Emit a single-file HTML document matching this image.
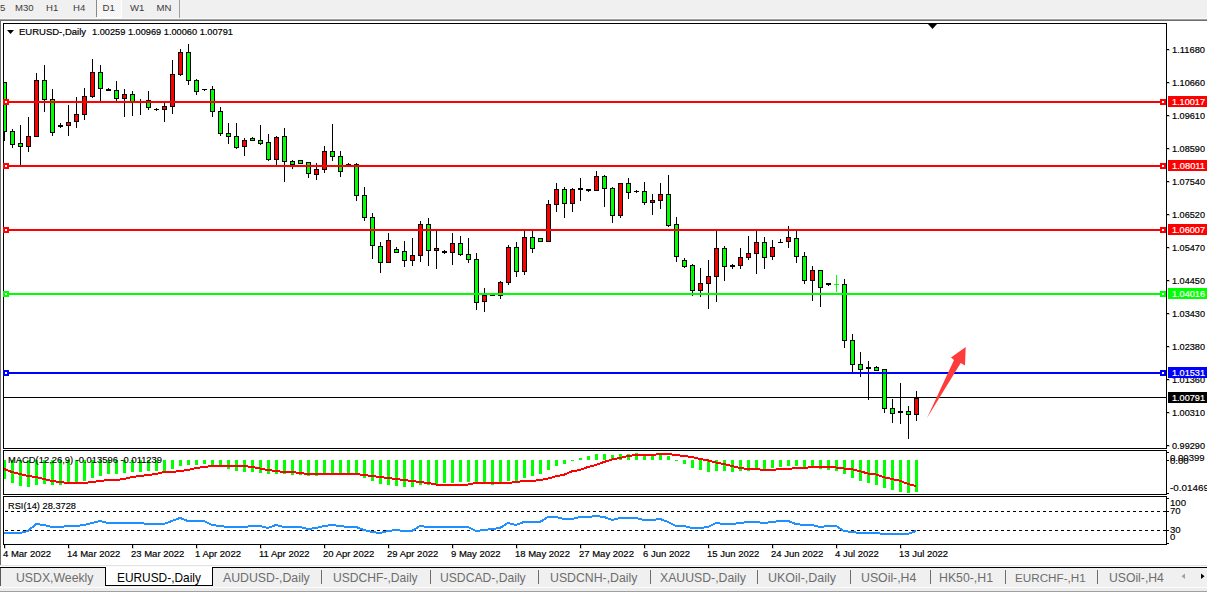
<!DOCTYPE html>
<html><head><meta charset="utf-8"><style>
html,body{margin:0;padding:0;width:1207px;height:592px;overflow:hidden;background:#f0f0f0}
svg{display:block;font-family:"Liberation Sans",sans-serif}
</style></head><body>
<svg width="1207" height="592" viewBox="0 0 1207 592" shape-rendering="crispEdges">
<rect x="0" y="0" width="1207" height="19" fill="#f0f0f0"/>
<rect x="0" y="18" width="1207" height="1" fill="#f8f8f8"/>
<rect x="0" y="19" width="1207" height="1" fill="#a0a0a0"/>
<rect x="0" y="20" width="1207" height="1" fill="#6d6d6d"/>
<defs><pattern id="chk" x="0" y="0" width="2" height="2" patternUnits="userSpaceOnUse"><rect width="2" height="2" fill="#f0f0f0"/><rect width="1" height="1" fill="#fdfdfd"/><rect x="1" y="1" width="1" height="1" fill="#fdfdfd"/></pattern></defs>
<rect x="97" y="0" width="24" height="17" fill="url(#chk)"/>
<rect x="121" y="0" width="1" height="18" fill="#ffffff"/>
<rect x="97" y="17" width="25" height="1" fill="#ffffff"/>
<rect x="96" y="0" width="1" height="17" fill="#8a8a8a"/>
<rect x="179" y="0" width="1" height="18" fill="#a0a0a0"/>
<g font-size="9.6" fill="#383838" opacity="0.98">
<text x="0" y="11">5</text><text x="15" y="11" textLength="18.5" lengthAdjust="spacingAndGlyphs">M30</text><text x="46" y="11">H1</text><text x="73" y="11">H4</text>
<text x="102.5" y="11">D1</text><text x="130" y="11">W1</text><text x="156.5" y="11">MN</text>
</g>
<rect x="1" y="21" width="1206" height="544" fill="#fff"/>
<rect x="0" y="21" width="1" height="544" fill="#6d6d6d"/>
<rect x="3.5" y="23.5" width="1163" height="425" fill="none" stroke="#000" stroke-width="1"/>
<rect x="3.5" y="450.5" width="1163" height="44" fill="none" stroke="#000" stroke-width="1"/>
<rect x="1167" y="452" width="2" height="1" fill="#000"/><rect x="1167" y="460" width="2" height="1" fill="#000"/><rect x="1167" y="493" width="2" height="1" fill="#000"/>
<rect x="1167" y="498" width="2" height="1" fill="#000"/><rect x="1167" y="511" width="2" height="1" fill="#000"/><rect x="1167" y="530" width="2" height="1" fill="#000"/><rect x="1167" y="543" width="2" height="1" fill="#000"/>
<rect x="3.5" y="496.5" width="1163" height="48" fill="none" stroke="#000" stroke-width="1"/>
<rect x="4" y="397" width="1162" height="1" fill="#000"/>
<svg x="4" y="24" width="1162" height="424" viewBox="4 24 1162 424" overflow="hidden">
<rect x="4" y="82" width="1" height="59" fill="#000"/><rect x="2" y="82" width="5" height="50" fill="#000"/><rect x="3" y="83" width="3" height="48" fill="#00ff00"/><rect x="12" y="129" width="1" height="19" fill="#000"/><rect x="10" y="131" width="5" height="14" fill="#000"/><rect x="11" y="132" width="3" height="12" fill="#00ff00"/><rect x="20" y="125" width="1" height="40" fill="#000"/><rect x="18" y="143" width="5" height="4" fill="#000"/><rect x="19" y="144" width="3" height="2" fill="#00ff00"/><rect x="28" y="117" width="1" height="35" fill="#000"/><rect x="26" y="136" width="5" height="11" fill="#000"/><rect x="27" y="137" width="3" height="9" fill="#ff0000"/><rect x="36" y="73" width="1" height="64" fill="#000"/><rect x="34" y="80" width="5" height="57" fill="#000"/><rect x="35" y="81" width="3" height="55" fill="#ff0000"/><rect x="44" y="65" width="1" height="47" fill="#000"/><rect x="42" y="80" width="5" height="20" fill="#000"/><rect x="43" y="81" width="3" height="18" fill="#00ff00"/><rect x="52" y="89" width="1" height="47" fill="#000"/><rect x="50" y="99" width="5" height="34" fill="#000"/><rect x="51" y="100" width="3" height="32" fill="#00ff00"/><rect x="60" y="123" width="1" height="5" fill="#000"/><rect x="58" y="125" width="5" height="2" fill="#000"/><rect x="68" y="105" width="1" height="31" fill="#000"/><rect x="66" y="122" width="5" height="4" fill="#000"/><rect x="67" y="123" width="3" height="2" fill="#ff0000"/><rect x="76" y="97" width="1" height="31" fill="#000"/><rect x="74" y="114" width="5" height="8" fill="#000"/><rect x="75" y="115" width="3" height="6" fill="#ff0000"/><rect x="84" y="88" width="1" height="32" fill="#000"/><rect x="82" y="96" width="5" height="19" fill="#000"/><rect x="83" y="97" width="3" height="17" fill="#ff0000"/><rect x="92" y="59" width="1" height="39" fill="#000"/><rect x="90" y="72" width="5" height="25" fill="#000"/><rect x="91" y="73" width="3" height="23" fill="#ff0000"/><rect x="100" y="65" width="1" height="36" fill="#000"/><rect x="98" y="72" width="5" height="17" fill="#000"/><rect x="99" y="73" width="3" height="15" fill="#00ff00"/><rect x="108" y="88" width="1" height="3" fill="#000"/><rect x="106" y="89" width="5" height="2" fill="#000"/><rect x="116" y="81" width="1" height="20" fill="#000"/><rect x="114" y="90" width="5" height="9" fill="#000"/><rect x="115" y="91" width="3" height="7" fill="#00ff00"/><rect x="124" y="89" width="1" height="28" fill="#000"/><rect x="122" y="94" width="5" height="5" fill="#000"/><rect x="123" y="95" width="3" height="3" fill="#ff0000"/><rect x="132" y="91" width="1" height="25" fill="#000"/><rect x="130" y="94" width="5" height="8" fill="#000"/><rect x="131" y="95" width="3" height="6" fill="#00ff00"/><rect x="140" y="99" width="1" height="16" fill="#000"/><rect x="138" y="101" width="5" height="1" fill="#000"/><rect x="148" y="91" width="1" height="19" fill="#000"/><rect x="146" y="100" width="5" height="8" fill="#000"/><rect x="147" y="101" width="3" height="6" fill="#00ff00"/><rect x="156" y="108" width="1" height="3" fill="#000"/><rect x="154" y="109" width="5" height="1" fill="#000"/><rect x="164" y="103" width="1" height="19" fill="#000"/><rect x="162" y="106" width="5" height="4" fill="#000"/><rect x="163" y="107" width="3" height="2" fill="#ff0000"/><rect x="172" y="60" width="1" height="54" fill="#000"/><rect x="170" y="74" width="5" height="33" fill="#000"/><rect x="171" y="75" width="3" height="31" fill="#ff0000"/><rect x="180" y="49" width="1" height="27" fill="#000"/><rect x="178" y="52" width="5" height="23" fill="#000"/><rect x="179" y="53" width="3" height="21" fill="#ff0000"/><rect x="188" y="44" width="1" height="41" fill="#000"/><rect x="186" y="52" width="5" height="29" fill="#000"/><rect x="187" y="53" width="3" height="27" fill="#00ff00"/><rect x="196" y="79" width="1" height="16" fill="#000"/><rect x="194" y="80" width="5" height="12" fill="#000"/><rect x="195" y="81" width="3" height="10" fill="#00ff00"/><rect x="204" y="89" width="1" height="2" fill="#000"/><rect x="202" y="89" width="5" height="1" fill="#000"/><rect x="212" y="86" width="1" height="31" fill="#000"/><rect x="210" y="89" width="5" height="23" fill="#000"/><rect x="211" y="90" width="3" height="21" fill="#00ff00"/><rect x="220" y="107" width="1" height="29" fill="#000"/><rect x="218" y="111" width="5" height="23" fill="#000"/><rect x="219" y="112" width="3" height="21" fill="#00ff00"/><rect x="228" y="123" width="1" height="21" fill="#000"/><rect x="226" y="133" width="5" height="4" fill="#000"/><rect x="227" y="134" width="3" height="2" fill="#00ff00"/><rect x="236" y="123" width="1" height="26" fill="#000"/><rect x="234" y="136" width="5" height="12" fill="#000"/><rect x="235" y="137" width="3" height="10" fill="#00ff00"/><rect x="244" y="138" width="1" height="18" fill="#000"/><rect x="242" y="140" width="5" height="7" fill="#000"/><rect x="243" y="141" width="3" height="5" fill="#ff0000"/><rect x="252" y="137" width="1" height="4" fill="#000"/><rect x="250" y="138" width="5" height="3" fill="#000"/><rect x="251" y="139" width="3" height="1" fill="#00ff00"/><rect x="260" y="125" width="1" height="20" fill="#000"/><rect x="258" y="140" width="5" height="4" fill="#000"/><rect x="259" y="141" width="3" height="2" fill="#00ff00"/><rect x="268" y="134" width="1" height="27" fill="#000"/><rect x="266" y="142" width="5" height="18" fill="#000"/><rect x="267" y="143" width="3" height="16" fill="#00ff00"/><rect x="276" y="136" width="1" height="29" fill="#000"/><rect x="274" y="137" width="5" height="23" fill="#000"/><rect x="275" y="138" width="3" height="21" fill="#ff0000"/><rect x="284" y="128" width="1" height="54" fill="#000"/><rect x="282" y="136" width="5" height="26" fill="#000"/><rect x="283" y="137" width="3" height="24" fill="#00ff00"/><rect x="292" y="160" width="1" height="9" fill="#000"/><rect x="290" y="161" width="5" height="4" fill="#000"/><rect x="291" y="162" width="3" height="2" fill="#00ff00"/><rect x="300" y="160" width="1" height="3" fill="#000"/><rect x="298" y="160" width="5" height="4" fill="#000"/><rect x="299" y="161" width="3" height="2" fill="#00ff00"/><rect x="308" y="162" width="1" height="16" fill="#000"/><rect x="306" y="162" width="5" height="12" fill="#000"/><rect x="307" y="163" width="3" height="10" fill="#00ff00"/><rect x="316" y="163" width="1" height="17" fill="#000"/><rect x="314" y="169" width="5" height="6" fill="#000"/><rect x="315" y="170" width="3" height="4" fill="#ff0000"/><rect x="324" y="146" width="1" height="27" fill="#000"/><rect x="322" y="151" width="5" height="19" fill="#000"/><rect x="323" y="152" width="3" height="17" fill="#ff0000"/><rect x="332" y="124" width="1" height="37" fill="#000"/><rect x="330" y="151" width="5" height="6" fill="#000"/><rect x="331" y="152" width="3" height="4" fill="#00ff00"/><rect x="340" y="151" width="1" height="26" fill="#000"/><rect x="338" y="156" width="5" height="16" fill="#000"/><rect x="339" y="157" width="3" height="14" fill="#00ff00"/><rect x="348" y="163" width="1" height="3" fill="#000"/><rect x="346" y="164" width="5" height="2" fill="#000"/><rect x="356" y="163" width="1" height="38" fill="#000"/><rect x="354" y="164" width="5" height="32" fill="#000"/><rect x="355" y="165" width="3" height="30" fill="#00ff00"/><rect x="364" y="187" width="1" height="34" fill="#000"/><rect x="362" y="195" width="5" height="23" fill="#000"/><rect x="363" y="196" width="3" height="21" fill="#00ff00"/><rect x="372" y="213" width="1" height="46" fill="#000"/><rect x="370" y="217" width="5" height="29" fill="#000"/><rect x="371" y="218" width="3" height="27" fill="#00ff00"/><rect x="380" y="242" width="1" height="31" fill="#000"/><rect x="378" y="246" width="5" height="17" fill="#000"/><rect x="379" y="247" width="3" height="15" fill="#00ff00"/><rect x="388" y="233" width="1" height="30" fill="#000"/><rect x="386" y="240" width="5" height="23" fill="#000"/><rect x="387" y="241" width="3" height="21" fill="#ff0000"/><rect x="396" y="247" width="1" height="6" fill="#000"/><rect x="394" y="249" width="5" height="4" fill="#000"/><rect x="395" y="250" width="3" height="2" fill="#00ff00"/><rect x="404" y="241" width="1" height="26" fill="#000"/><rect x="402" y="251" width="5" height="10" fill="#000"/><rect x="403" y="252" width="3" height="8" fill="#00ff00"/><rect x="412" y="238" width="1" height="28" fill="#000"/><rect x="410" y="255" width="5" height="6" fill="#000"/><rect x="411" y="256" width="3" height="4" fill="#ff0000"/><rect x="420" y="221" width="1" height="41" fill="#000"/><rect x="418" y="224" width="5" height="32" fill="#000"/><rect x="419" y="225" width="3" height="30" fill="#ff0000"/><rect x="428" y="218" width="1" height="48" fill="#000"/><rect x="426" y="224" width="5" height="27" fill="#000"/><rect x="427" y="225" width="3" height="25" fill="#00ff00"/><rect x="436" y="231" width="1" height="38" fill="#000"/><rect x="434" y="248" width="5" height="3" fill="#000"/><rect x="435" y="249" width="3" height="1" fill="#ff0000"/><rect x="444" y="250" width="1" height="4" fill="#000"/><rect x="442" y="251" width="5" height="2" fill="#000"/><rect x="452" y="233" width="1" height="32" fill="#000"/><rect x="450" y="243" width="5" height="10" fill="#000"/><rect x="451" y="244" width="3" height="8" fill="#ff0000"/><rect x="460" y="236" width="1" height="20" fill="#000"/><rect x="458" y="243" width="5" height="12" fill="#000"/><rect x="459" y="244" width="3" height="10" fill="#00ff00"/><rect x="468" y="238" width="1" height="25" fill="#000"/><rect x="466" y="254" width="5" height="6" fill="#000"/><rect x="467" y="255" width="3" height="4" fill="#00ff00"/><rect x="476" y="253" width="1" height="57" fill="#000"/><rect x="474" y="259" width="5" height="44" fill="#000"/><rect x="475" y="260" width="3" height="42" fill="#00ff00"/><rect x="484" y="288" width="1" height="24" fill="#000"/><rect x="482" y="295" width="5" height="7" fill="#000"/><rect x="483" y="296" width="3" height="5" fill="#ff0000"/><rect x="492" y="295" width="1" height="1" fill="#000"/><rect x="490" y="295" width="5" height="1" fill="#000"/><rect x="500" y="281" width="1" height="18" fill="#000"/><rect x="498" y="282" width="5" height="14" fill="#000"/><rect x="499" y="283" width="3" height="12" fill="#ff0000"/><rect x="508" y="245" width="1" height="40" fill="#000"/><rect x="506" y="247" width="5" height="36" fill="#000"/><rect x="507" y="248" width="3" height="34" fill="#ff0000"/><rect x="516" y="242" width="1" height="35" fill="#000"/><rect x="514" y="247" width="5" height="25" fill="#000"/><rect x="515" y="248" width="3" height="23" fill="#00ff00"/><rect x="524" y="231" width="1" height="44" fill="#000"/><rect x="522" y="237" width="5" height="35" fill="#000"/><rect x="523" y="238" width="3" height="33" fill="#ff0000"/><rect x="532" y="231" width="1" height="22" fill="#000"/><rect x="530" y="237" width="5" height="12" fill="#000"/><rect x="531" y="238" width="3" height="10" fill="#00ff00"/><rect x="540" y="238" width="1" height="4" fill="#000"/><rect x="538" y="238" width="5" height="4" fill="#000"/><rect x="539" y="239" width="3" height="2" fill="#00ff00"/><rect x="548" y="200" width="1" height="42" fill="#000"/><rect x="546" y="204" width="5" height="38" fill="#000"/><rect x="547" y="205" width="3" height="36" fill="#ff0000"/><rect x="556" y="183" width="1" height="29" fill="#000"/><rect x="554" y="189" width="5" height="16" fill="#000"/><rect x="555" y="190" width="3" height="14" fill="#ff0000"/><rect x="564" y="187" width="1" height="31" fill="#000"/><rect x="562" y="189" width="5" height="15" fill="#000"/><rect x="563" y="190" width="3" height="13" fill="#00ff00"/><rect x="572" y="188" width="1" height="24" fill="#000"/><rect x="570" y="189" width="5" height="15" fill="#000"/><rect x="571" y="190" width="3" height="13" fill="#ff0000"/><rect x="580" y="178" width="1" height="23" fill="#000"/><rect x="578" y="188" width="5" height="2" fill="#000"/><rect x="588" y="189" width="1" height="3" fill="#000"/><rect x="586" y="189" width="5" height="2" fill="#000"/><rect x="596" y="171" width="1" height="20" fill="#000"/><rect x="594" y="176" width="5" height="15" fill="#000"/><rect x="595" y="177" width="3" height="13" fill="#ff0000"/><rect x="604" y="175" width="1" height="32" fill="#000"/><rect x="602" y="176" width="5" height="13" fill="#000"/><rect x="603" y="177" width="3" height="11" fill="#00ff00"/><rect x="612" y="187" width="1" height="36" fill="#000"/><rect x="610" y="188" width="5" height="28" fill="#000"/><rect x="611" y="189" width="3" height="26" fill="#00ff00"/><rect x="620" y="183" width="1" height="35" fill="#000"/><rect x="618" y="183" width="5" height="33" fill="#000"/><rect x="619" y="184" width="3" height="31" fill="#ff0000"/><rect x="628" y="178" width="1" height="21" fill="#000"/><rect x="626" y="183" width="5" height="10" fill="#000"/><rect x="627" y="184" width="3" height="8" fill="#00ff00"/><rect x="636" y="190" width="1" height="3" fill="#000"/><rect x="634" y="191" width="5" height="1" fill="#000"/><rect x="644" y="182" width="1" height="23" fill="#000"/><rect x="642" y="191" width="5" height="12" fill="#000"/><rect x="643" y="192" width="3" height="10" fill="#00ff00"/><rect x="652" y="194" width="1" height="21" fill="#000"/><rect x="650" y="200" width="5" height="3" fill="#000"/><rect x="651" y="201" width="3" height="1" fill="#ff0000"/><rect x="660" y="183" width="1" height="26" fill="#000"/><rect x="658" y="194" width="5" height="7" fill="#000"/><rect x="659" y="195" width="3" height="5" fill="#ff0000"/><rect x="668" y="175" width="1" height="52" fill="#000"/><rect x="666" y="194" width="5" height="32" fill="#000"/><rect x="667" y="195" width="3" height="30" fill="#00ff00"/><rect x="676" y="217" width="1" height="45" fill="#000"/><rect x="674" y="224" width="5" height="33" fill="#000"/><rect x="675" y="225" width="3" height="31" fill="#00ff00"/><rect x="684" y="258" width="1" height="10" fill="#000"/><rect x="682" y="260" width="5" height="7" fill="#000"/><rect x="683" y="261" width="3" height="5" fill="#00ff00"/><rect x="692" y="264" width="1" height="32" fill="#000"/><rect x="690" y="265" width="5" height="26" fill="#000"/><rect x="691" y="266" width="3" height="24" fill="#00ff00"/><rect x="700" y="268" width="1" height="29" fill="#000"/><rect x="698" y="283" width="5" height="8" fill="#000"/><rect x="699" y="284" width="3" height="6" fill="#ff0000"/><rect x="708" y="260" width="1" height="49" fill="#000"/><rect x="706" y="276" width="5" height="8" fill="#000"/><rect x="707" y="277" width="3" height="6" fill="#ff0000"/><rect x="716" y="231" width="1" height="71" fill="#000"/><rect x="714" y="248" width="5" height="29" fill="#000"/><rect x="715" y="249" width="3" height="27" fill="#ff0000"/><rect x="724" y="246" width="1" height="35" fill="#000"/><rect x="722" y="248" width="5" height="19" fill="#000"/><rect x="723" y="249" width="3" height="17" fill="#00ff00"/><rect x="732" y="264" width="1" height="5" fill="#000"/><rect x="730" y="265" width="5" height="2" fill="#000"/><rect x="740" y="248" width="1" height="21" fill="#000"/><rect x="738" y="257" width="5" height="9" fill="#000"/><rect x="739" y="258" width="3" height="7" fill="#ff0000"/><rect x="748" y="236" width="1" height="24" fill="#000"/><rect x="746" y="253" width="5" height="5" fill="#000"/><rect x="747" y="254" width="3" height="3" fill="#ff0000"/><rect x="756" y="231" width="1" height="43" fill="#000"/><rect x="754" y="242" width="5" height="12" fill="#000"/><rect x="755" y="243" width="3" height="10" fill="#ff0000"/><rect x="764" y="237" width="1" height="32" fill="#000"/><rect x="762" y="242" width="5" height="16" fill="#000"/><rect x="763" y="243" width="3" height="14" fill="#00ff00"/><rect x="772" y="240" width="1" height="20" fill="#000"/><rect x="770" y="247" width="5" height="10" fill="#000"/><rect x="771" y="248" width="3" height="8" fill="#ff0000"/><rect x="780" y="239" width="1" height="4" fill="#000"/><rect x="778" y="242" width="5" height="1" fill="#000"/><rect x="788" y="226" width="1" height="22" fill="#000"/><rect x="786" y="237" width="5" height="5" fill="#000"/><rect x="787" y="238" width="3" height="3" fill="#ff0000"/><rect x="796" y="231" width="1" height="32" fill="#000"/><rect x="794" y="238" width="5" height="19" fill="#000"/><rect x="795" y="239" width="3" height="17" fill="#00ff00"/><rect x="804" y="252" width="1" height="32" fill="#000"/><rect x="802" y="256" width="5" height="25" fill="#000"/><rect x="803" y="257" width="3" height="23" fill="#00ff00"/><rect x="812" y="266" width="1" height="35" fill="#000"/><rect x="810" y="270" width="5" height="11" fill="#000"/><rect x="811" y="271" width="3" height="9" fill="#ff0000"/><rect x="820" y="270" width="1" height="37" fill="#000"/><rect x="818" y="270" width="5" height="18" fill="#000"/><rect x="819" y="271" width="3" height="16" fill="#00ff00"/><rect x="828" y="283" width="1" height="3" fill="#000"/><rect x="826" y="283" width="5" height="2" fill="#000"/><rect x="836" y="275" width="1" height="17" fill="#00ff00"/><rect x="834" y="284" width="5" height="1" fill="#00ff00"/><rect x="844" y="279" width="1" height="69" fill="#000"/><rect x="842" y="284" width="5" height="57" fill="#000"/><rect x="843" y="285" width="3" height="55" fill="#00ff00"/><rect x="852" y="334" width="1" height="39" fill="#000"/><rect x="850" y="340" width="5" height="25" fill="#000"/><rect x="851" y="341" width="3" height="23" fill="#00ff00"/><rect x="860" y="352" width="1" height="25" fill="#000"/><rect x="858" y="364" width="5" height="6" fill="#000"/><rect x="859" y="365" width="3" height="4" fill="#00ff00"/><rect x="868" y="361" width="1" height="39" fill="#000"/><rect x="866" y="367" width="5" height="2" fill="#000"/><rect x="876" y="366" width="1" height="5" fill="#000"/><rect x="874" y="367" width="5" height="4" fill="#000"/><rect x="875" y="368" width="3" height="2" fill="#00ff00"/><rect x="884" y="369" width="1" height="44" fill="#000"/><rect x="882" y="369" width="5" height="40" fill="#000"/><rect x="883" y="370" width="3" height="38" fill="#00ff00"/><rect x="892" y="399" width="1" height="24" fill="#000"/><rect x="890" y="408" width="5" height="6" fill="#000"/><rect x="891" y="409" width="3" height="4" fill="#00ff00"/><rect x="900" y="383" width="1" height="41" fill="#000"/><rect x="898" y="411" width="5" height="2" fill="#000"/><rect x="908" y="406" width="1" height="33" fill="#000"/><rect x="906" y="411" width="5" height="4" fill="#000"/><rect x="907" y="412" width="3" height="2" fill="#00ff00"/><rect x="916" y="391" width="1" height="30" fill="#000"/><rect x="914" y="398" width="5" height="17" fill="#000"/><rect x="915" y="399" width="3" height="15" fill="#ff0000"/>
</svg>
<g font-size="9.8" fill="#000" stroke="#000" stroke-width="0.2">
<rect x="1167" y="49" width="2" height="1" fill="#000"/><text x="1172" y="53" textLength="33" lengthAdjust="spacingAndGlyphs">1.11680</text><rect x="1167" y="82" width="2" height="1" fill="#000"/><text x="1172" y="86" textLength="33" lengthAdjust="spacingAndGlyphs">1.10660</text><rect x="1167" y="115" width="2" height="1" fill="#000"/><text x="1172" y="119" textLength="33" lengthAdjust="spacingAndGlyphs">1.09610</text><rect x="1167" y="148" width="2" height="1" fill="#000"/><text x="1172" y="152" textLength="33" lengthAdjust="spacingAndGlyphs">1.08590</text><rect x="1167" y="181" width="2" height="1" fill="#000"/><text x="1172" y="185" textLength="33" lengthAdjust="spacingAndGlyphs">1.07540</text><rect x="1167" y="214" width="2" height="1" fill="#000"/><text x="1172" y="218" textLength="33" lengthAdjust="spacingAndGlyphs">1.06520</text><rect x="1167" y="247" width="2" height="1" fill="#000"/><text x="1172" y="251" textLength="33" lengthAdjust="spacingAndGlyphs">1.05470</text><rect x="1167" y="280" width="2" height="1" fill="#000"/><text x="1172" y="284" textLength="33" lengthAdjust="spacingAndGlyphs">1.04450</text><rect x="1167" y="313" width="2" height="1" fill="#000"/><text x="1172" y="317" textLength="33" lengthAdjust="spacingAndGlyphs">1.03430</text><rect x="1167" y="346" width="2" height="1" fill="#000"/><text x="1172" y="350" textLength="33" lengthAdjust="spacingAndGlyphs">1.02380</text><rect x="1167" y="379" width="2" height="1" fill="#000"/><text x="1172" y="383" textLength="33" lengthAdjust="spacingAndGlyphs">1.01360</text><rect x="1167" y="412" width="2" height="1" fill="#000"/><text x="1172" y="416" textLength="33" lengthAdjust="spacingAndGlyphs">1.00310</text><rect x="1167" y="445" width="2" height="1" fill="#000"/><text x="1172" y="449" textLength="33" lengthAdjust="spacingAndGlyphs">0.99290</text>
</g>
<g font-size="9.8"><rect x="4" y="101" width="1162" height="2" fill="#ff0000"/><rect x="1160" y="99" width="6" height="6" fill="#ff0000"/><rect x="1162" y="101" width="2" height="2" fill="#fff"/><rect x="3" y="99" width="6" height="6" fill="#ff0000"/><rect x="5" y="101" width="2" height="2" fill="#fff"/><rect x="4" y="165" width="1162" height="2" fill="#ff0000"/><rect x="1160" y="163" width="6" height="6" fill="#ff0000"/><rect x="1162" y="165" width="2" height="2" fill="#fff"/><rect x="3" y="163" width="6" height="6" fill="#ff0000"/><rect x="5" y="165" width="2" height="2" fill="#fff"/><rect x="4" y="229" width="1162" height="2" fill="#ff0000"/><rect x="1160" y="227" width="6" height="6" fill="#ff0000"/><rect x="1162" y="229" width="2" height="2" fill="#fff"/><rect x="3" y="227" width="6" height="6" fill="#ff0000"/><rect x="5" y="229" width="2" height="2" fill="#fff"/><rect x="4" y="293" width="1162" height="2" fill="#00ff00"/><rect x="1160" y="291" width="6" height="6" fill="#00ff00"/><rect x="1162" y="293" width="2" height="2" fill="#fff"/><rect x="3" y="291" width="6" height="6" fill="#00ff00"/><rect x="5" y="293" width="2" height="2" fill="#fff"/><rect x="4" y="372" width="1162" height="2" fill="#0000ff"/><rect x="1160" y="370" width="6" height="6" fill="#0000ff"/><rect x="1162" y="372" width="2" height="2" fill="#fff"/><rect x="3" y="370" width="6" height="6" fill="#0000ff"/><rect x="5" y="372" width="2" height="2" fill="#fff"/><rect x="1168" y="96" width="39" height="11" fill="#ff0000"/><text x="1172" y="105" fill="#fff" stroke="#fff" stroke-width="0.2" textLength="33" lengthAdjust="spacingAndGlyphs">1.10017</text><rect x="1168" y="160" width="39" height="11" fill="#ff0000"/><text x="1172" y="169" fill="#fff" stroke="#fff" stroke-width="0.2" textLength="33" lengthAdjust="spacingAndGlyphs">1.08011</text><rect x="1168" y="224" width="39" height="11" fill="#ff0000"/><text x="1172" y="233" fill="#fff" stroke="#fff" stroke-width="0.2" textLength="33" lengthAdjust="spacingAndGlyphs">1.06007</text><rect x="1168" y="288" width="39" height="11" fill="#00ff00"/><text x="1172" y="297" fill="#fff" stroke="#fff" stroke-width="0.2" textLength="33" lengthAdjust="spacingAndGlyphs">1.04016</text><rect x="1168" y="367" width="39" height="11" fill="#0000ff"/><text x="1172" y="376" fill="#fff" stroke="#fff" stroke-width="0.2" textLength="33" lengthAdjust="spacingAndGlyphs">1.01531</text><rect x="1168" y="392" width="39" height="11" fill="#000"/><text x="1172" y="401" fill="#fff" stroke="#fff" stroke-width="0.2" textLength="33" lengthAdjust="spacingAndGlyphs">1.00791</text></g>
<polygon points="928,24 937,24 932.5,29" fill="#000" shape-rendering="geometricPrecision"/>
<polygon points="7,30 14,30 10.5,34" fill="#000" shape-rendering="geometricPrecision"/>
<g font-size="9.9" fill="#000" stroke="#000" stroke-width="0.2">
<text x="19" y="35" textLength="67" lengthAdjust="spacingAndGlyphs">EURUSD-,Daily</text><text x="92" y="35" textLength="141" lengthAdjust="spacingAndGlyphs">1.00259 1.00969 1.00060 1.00791</text>
</g>
<polygon points="927,418 954,360 951,357.5 965.7,347 965,365.5 960.7,363" fill="#ff3c3c" shape-rendering="geometricPrecision"/>
<svg x="4" y="451" width="1162" height="43" viewBox="4 451 1162 43" overflow="hidden">
<rect x="3" y="460" width="3" height="19" fill="#00ff00"/><rect x="11" y="460" width="3" height="23" fill="#00ff00"/><rect x="19" y="460" width="3" height="26" fill="#00ff00"/><rect x="27" y="460" width="3" height="27" fill="#00ff00"/><rect x="35" y="460" width="3" height="25" fill="#00ff00"/><rect x="43" y="460" width="3" height="24" fill="#00ff00"/><rect x="51" y="460" width="3" height="25" fill="#00ff00"/><rect x="59" y="460" width="3" height="25" fill="#00ff00"/><rect x="67" y="460" width="3" height="22" fill="#00ff00"/><rect x="75" y="460" width="3" height="22" fill="#00ff00"/><rect x="83" y="460" width="3" height="21" fill="#00ff00"/><rect x="91" y="460" width="3" height="18" fill="#00ff00"/><rect x="99" y="460" width="3" height="16" fill="#00ff00"/><rect x="107" y="460" width="3" height="14" fill="#00ff00"/><rect x="115" y="460" width="3" height="14" fill="#00ff00"/><rect x="123" y="460" width="3" height="13" fill="#00ff00"/><rect x="131" y="460" width="3" height="12" fill="#00ff00"/><rect x="139" y="460" width="3" height="12" fill="#00ff00"/><rect x="147" y="460" width="3" height="11" fill="#00ff00"/><rect x="155" y="460" width="3" height="11" fill="#00ff00"/><rect x="163" y="460" width="3" height="11" fill="#00ff00"/><rect x="171" y="460" width="3" height="9" fill="#00ff00"/><rect x="179" y="460" width="3" height="6" fill="#00ff00"/><rect x="187" y="460" width="3" height="5" fill="#00ff00"/><rect x="195" y="460" width="3" height="5" fill="#00ff00"/><rect x="203" y="460" width="3" height="4" fill="#00ff00"/><rect x="211" y="460" width="3" height="5" fill="#00ff00"/><rect x="219" y="460" width="3" height="5" fill="#00ff00"/><rect x="227" y="460" width="3" height="9" fill="#00ff00"/><rect x="235" y="460" width="3" height="11" fill="#00ff00"/><rect x="243" y="460" width="3" height="12" fill="#00ff00"/><rect x="251" y="460" width="3" height="12" fill="#00ff00"/><rect x="259" y="460" width="3" height="13" fill="#00ff00"/><rect x="267" y="460" width="3" height="14" fill="#00ff00"/><rect x="275" y="460" width="3" height="14" fill="#00ff00"/><rect x="283" y="460" width="3" height="14" fill="#00ff00"/><rect x="291" y="460" width="3" height="15" fill="#00ff00"/><rect x="299" y="460" width="3" height="15" fill="#00ff00"/><rect x="307" y="460" width="3" height="16" fill="#00ff00"/><rect x="315" y="460" width="3" height="16" fill="#00ff00"/><rect x="323" y="460" width="3" height="14" fill="#00ff00"/><rect x="331" y="460" width="3" height="14" fill="#00ff00"/><rect x="339" y="460" width="3" height="14" fill="#00ff00"/><rect x="347" y="460" width="3" height="14" fill="#00ff00"/><rect x="355" y="460" width="3" height="14" fill="#00ff00"/><rect x="363" y="460" width="3" height="18" fill="#00ff00"/><rect x="371" y="460" width="3" height="21" fill="#00ff00"/><rect x="379" y="460" width="3" height="24" fill="#00ff00"/><rect x="387" y="460" width="3" height="25" fill="#00ff00"/><rect x="395" y="460" width="3" height="26" fill="#00ff00"/><rect x="403" y="460" width="3" height="27" fill="#00ff00"/><rect x="411" y="460" width="3" height="27" fill="#00ff00"/><rect x="419" y="460" width="3" height="25" fill="#00ff00"/><rect x="427" y="460" width="3" height="25" fill="#00ff00"/><rect x="435" y="460" width="3" height="24" fill="#00ff00"/><rect x="443" y="460" width="3" height="23" fill="#00ff00"/><rect x="451" y="460" width="3" height="23" fill="#00ff00"/><rect x="459" y="460" width="3" height="22" fill="#00ff00"/><rect x="467" y="460" width="3" height="22" fill="#00ff00"/><rect x="475" y="460" width="3" height="23" fill="#00ff00"/><rect x="483" y="460" width="3" height="24" fill="#00ff00"/><rect x="491" y="460" width="3" height="25" fill="#00ff00"/><rect x="499" y="460" width="3" height="23" fill="#00ff00"/><rect x="507" y="460" width="3" height="21" fill="#00ff00"/><rect x="515" y="460" width="3" height="21" fill="#00ff00"/><rect x="523" y="460" width="3" height="18" fill="#00ff00"/><rect x="531" y="460" width="3" height="16" fill="#00ff00"/><rect x="539" y="460" width="3" height="14" fill="#00ff00"/><rect x="547" y="460" width="3" height="10" fill="#00ff00"/><rect x="555" y="460" width="3" height="6" fill="#00ff00"/><rect x="563" y="460" width="3" height="4" fill="#00ff00"/><rect x="571" y="460" width="3" height="1" fill="#00ff00"/><rect x="579" y="458" width="3" height="2" fill="#00ff00"/><rect x="587" y="456" width="3" height="4" fill="#00ff00"/><rect x="595" y="454" width="3" height="6" fill="#00ff00"/><rect x="603" y="454" width="3" height="6" fill="#00ff00"/><rect x="611" y="455" width="3" height="5" fill="#00ff00"/><rect x="619" y="454" width="3" height="6" fill="#00ff00"/><rect x="627" y="454" width="3" height="6" fill="#00ff00"/><rect x="635" y="453" width="3" height="7" fill="#00ff00"/><rect x="643" y="455" width="3" height="5" fill="#00ff00"/><rect x="651" y="455" width="3" height="5" fill="#00ff00"/><rect x="659" y="455" width="3" height="5" fill="#00ff00"/><rect x="667" y="456" width="3" height="4" fill="#00ff00"/><rect x="675" y="460" width="3" height="1" fill="#00ff00"/><rect x="683" y="460" width="3" height="4" fill="#00ff00"/><rect x="691" y="460" width="3" height="8" fill="#00ff00"/><rect x="699" y="460" width="3" height="10" fill="#00ff00"/><rect x="707" y="460" width="3" height="12" fill="#00ff00"/><rect x="715" y="460" width="3" height="11" fill="#00ff00"/><rect x="723" y="460" width="3" height="11" fill="#00ff00"/><rect x="731" y="460" width="3" height="12" fill="#00ff00"/><rect x="739" y="460" width="3" height="11" fill="#00ff00"/><rect x="747" y="460" width="3" height="11" fill="#00ff00"/><rect x="755" y="460" width="3" height="9" fill="#00ff00"/><rect x="763" y="460" width="3" height="9" fill="#00ff00"/><rect x="771" y="460" width="3" height="8" fill="#00ff00"/><rect x="779" y="460" width="3" height="7" fill="#00ff00"/><rect x="787" y="460" width="3" height="6" fill="#00ff00"/><rect x="795" y="460" width="3" height="6" fill="#00ff00"/><rect x="803" y="460" width="3" height="7" fill="#00ff00"/><rect x="811" y="460" width="3" height="7" fill="#00ff00"/><rect x="819" y="460" width="3" height="9" fill="#00ff00"/><rect x="827" y="460" width="3" height="10" fill="#00ff00"/><rect x="835" y="460" width="3" height="11" fill="#00ff00"/><rect x="843" y="460" width="3" height="14" fill="#00ff00"/><rect x="851" y="460" width="3" height="18" fill="#00ff00"/><rect x="859" y="460" width="3" height="21" fill="#00ff00"/><rect x="867" y="460" width="3" height="23" fill="#00ff00"/><rect x="875" y="460" width="3" height="25" fill="#00ff00"/><rect x="883" y="460" width="3" height="28" fill="#00ff00"/><rect x="891" y="460" width="3" height="30" fill="#00ff00"/><rect x="899" y="460" width="3" height="32" fill="#00ff00"/><rect x="907" y="460" width="3" height="33" fill="#00ff00"/><rect x="915" y="460" width="3" height="32" fill="#00ff00"/>
<polyline points="4,469 12,472 20,474 28,476 36,477 44,479 52,481 60,482 68,483 76,483 84,483 92,482 100,481 108,480 116,480 124,479 132,477 140,476 148,475 156,474 164,472 172,472 180,471 188,470 196,468 204,467 212,466 220,466 228,466 236,466 244,466 252,467 260,468.5 268,470 276,471 284,472 292,472 300,473 308,474 316,474 324,474 332,474 340,474 348,474 356,474 364,475 372,476 380,477 388,478 396,479 404,480 412,481 420,482 428,483 436,484.5 444,484.5 452,484.5 460,484.5 468,484.5 476,483 484,483 492,483 500,483 508,483 516,482 524,481 532,481 540,480 548,478.6 556,476.3 564,474.7 572,471.3 580,470 588,467 596,465 604,462 612,459.5 620,458 628,456 636,455 644,455 652,455 660,454 668,454 676,455 684,456 692,457 700,459 708,460.4 716,462.5 724,464 732,466 740,468 748,469 756,469 764,470 772,470 780,469 788,469 796,468 804,468 812,467 820,467 828,467 836,467.5 844,468.5 852,469.2 860,471.2 868,473.5 876,474.4 884,477.2 892,479 900,480.8 908,484 916,486" fill="none" stroke="#ff0000" stroke-width="2" shape-rendering="crispEdges"/>
</svg>
<g font-size="9.8" fill="#000" stroke="#000" stroke-width="0.15"><text x="8" y="463" textLength="154" lengthAdjust="spacingAndGlyphs">MACD(12,26,9) -0.013596 -0.011239</text></g>
<line x1="4" y1="511.5" x2="1166" y2="511.5" stroke="#000" stroke-dasharray="3,3" stroke-dashoffset="-1"/>
<line x1="4" y1="530.5" x2="1166" y2="530.5" stroke="#000" stroke-dasharray="3,3" stroke-dashoffset="-1"/>
<svg x="4" y="497" width="1162" height="47" viewBox="4 497 1162 47" overflow="hidden">
<polyline points="4,533 12,533 20,533 28,531 36,524 44,525 52,527 60,527 68,526 76,526 84,525 92,523 100,521 108,523 116,523 124,523 132,523 140,523 148,524 156,524 164,524 172,521 180,518 188,521 196,521 204,521 212,525 220,526 228,527 236,527 244,527 252,526 260,526 268,528 276,525 284,527 292,527 300,527 308,529 316,528 324,526 332,525 340,526 348,527 356,527 364,530 372,532 380,533 388,531 396,530 404,531 412,531 420,526 428,527 436,527 444,527 452,527 460,527 468,527 476,531 484,530 492,529 500,528 508,523 516,525 524,522 532,522 540,522 548,517 556,517 564,519 572,519 580,517 588,517 596,516 604,517 612,520 620,518 628,518 636,518 644,520 652,520 660,519 668,522 676,526 684,526 692,528 700,528 708,527 716,523 724,524 732,524 740,523 748,522 756,522 764,523 772,522 780,521 788,521 796,524 804,525 812,525 820,527 828,526 836,526 844,531 852,532 860,533 868,533 876,533 884,534 892,534 900,534 908,534 916,531" fill="none" stroke="#1e90ff" stroke-width="2" shape-rendering="crispEdges"/>
</svg>
<g font-size="9.8" fill="#000" stroke="#000" stroke-width="0.15"><text x="8" y="509" textLength="68" lengthAdjust="spacingAndGlyphs">RSI(14) 28.3728</text></g>
<g font-size="9.6" fill="#000" stroke="#000" stroke-width="0.15">
<text x="1170" y="461">0.00399</text><text x="1170" y="464">0.00</text>
<text x="1170" y="491" textLength="39" lengthAdjust="spacingAndGlyphs">-0.01469</text>
<text x="1170" y="506">100</text><text x="1170" y="514">70</text><text x="1170" y="533">30</text><text x="1170" y="540">0</text>
</g>
<g font-size="9.5" fill="#000" stroke="#000" stroke-width="0.18">
<rect x="4" y="545" width="1" height="3" fill="#000"/><text x="3" y="557">4 Mar 2022</text><rect x="68" y="545" width="1" height="3" fill="#000"/><text x="67" y="557">14 Mar 2022</text><rect x="132" y="545" width="1" height="3" fill="#000"/><text x="131" y="557">23 Mar 2022</text><rect x="196" y="545" width="1" height="3" fill="#000"/><text x="195" y="557">1 Apr 2022</text><rect x="260" y="545" width="1" height="3" fill="#000"/><text x="259" y="557">11 Apr 2022</text><rect x="324" y="545" width="1" height="3" fill="#000"/><text x="323" y="557">20 Apr 2022</text><rect x="388" y="545" width="1" height="3" fill="#000"/><text x="387" y="557">29 Apr 2022</text><rect x="452" y="545" width="1" height="3" fill="#000"/><text x="451" y="557">9 May 2022</text><rect x="516" y="545" width="1" height="3" fill="#000"/><text x="515" y="557">18 May 2022</text><rect x="580" y="545" width="1" height="3" fill="#000"/><text x="579" y="557">27 May 2022</text><rect x="644" y="545" width="1" height="3" fill="#000"/><text x="643" y="557">6 Jun 2022</text><rect x="708" y="545" width="1" height="3" fill="#000"/><text x="707" y="557">15 Jun 2022</text><rect x="772" y="545" width="1" height="3" fill="#000"/><text x="771" y="557">24 Jun 2022</text><rect x="836" y="545" width="1" height="3" fill="#000"/><text x="835" y="557">4 Jul 2022</text><rect x="900" y="545" width="1" height="3" fill="#000"/><text x="899" y="557">13 Jul 2022</text>
</g>
<rect x="0" y="565" width="1207" height="1" fill="#e3e3e3"/>
<rect x="0" y="566" width="1207" height="1" fill="#fafafa"/>
<rect x="0" y="567" width="1207" height="1" fill="#000"/>
<rect x="0" y="568" width="1207" height="19" fill="#f0f0f0"/>
<rect x="0" y="568" width="1" height="18" fill="#5a5a5a"/>
<rect x="105" y="567" width="108" height="19" fill="#fff"/>
<rect x="105" y="567" width="1" height="19" fill="#000"/>
<rect x="212" y="567" width="1" height="19" fill="#000"/>
<rect x="105" y="585" width="108" height="1" fill="#000"/>
<rect x="0" y="587" width="1207" height="1" fill="#fbfbfb"/>
<rect x="0" y="588" width="1207" height="3" fill="#ececec"/>
<rect x="0" y="591" width="1207" height="1" fill="#a0a0a0"/>
<g font-size="12.2">
<text x="16" y="582" font-size="12.27" fill="#6d6d6d">USDX,Weekly</text><text x="117" y="582" font-size="11.9" fill="#000">EURUSD-,Daily</text><text x="223" y="582" font-size="12.3" fill="#6d6d6d">AUDUSD-,Daily</text><text x="333" y="582" font-size="12.1" fill="#6d6d6d">USDCHF-,Daily</text><text x="440" y="582" font-size="12.15" fill="#6d6d6d">USDCAD-,Daily</text><text x="550" y="582" font-size="12.3" fill="#6d6d6d">USDCNH-,Daily</text><text x="660" y="582" font-size="12.28" fill="#6d6d6d">XAUUSD-,Daily</text><text x="768" y="582" font-size="12.5" fill="#6d6d6d">UKOil-,Daily</text><text x="861" y="582" font-size="12.3" fill="#6d6d6d">USOil-,H4</text><text x="939" y="582" font-size="12.3" fill="#6d6d6d">HK50-,H1</text><text x="1015" y="582" font-size="11.7" fill="#6d6d6d">EURCHF-,H1</text><text x="1109" y="582" font-size="12.2" fill="#6d6d6d">USOil-,H4</text><rect x="321" y="570" width="1" height="14" fill="#6d6d6d"/><rect x="430" y="570" width="1" height="14" fill="#6d6d6d"/><rect x="538" y="570" width="1" height="14" fill="#6d6d6d"/><rect x="650" y="570" width="1" height="14" fill="#6d6d6d"/><rect x="757" y="570" width="1" height="14" fill="#6d6d6d"/><rect x="850" y="570" width="1" height="14" fill="#6d6d6d"/><rect x="930" y="570" width="1" height="14" fill="#6d6d6d"/><rect x="1005" y="570" width="1" height="14" fill="#6d6d6d"/><rect x="1097" y="570" width="1" height="14" fill="#6d6d6d"/>
</g>
<polygon points="1185,573.5 1185,579 1181.5,576.25" fill="#a0a0a0" shape-rendering="geometricPrecision"/>
<polygon points="1201,573.5 1201,579 1204.5,576.25" fill="#000" shape-rendering="geometricPrecision"/>
</svg>
</body></html>
